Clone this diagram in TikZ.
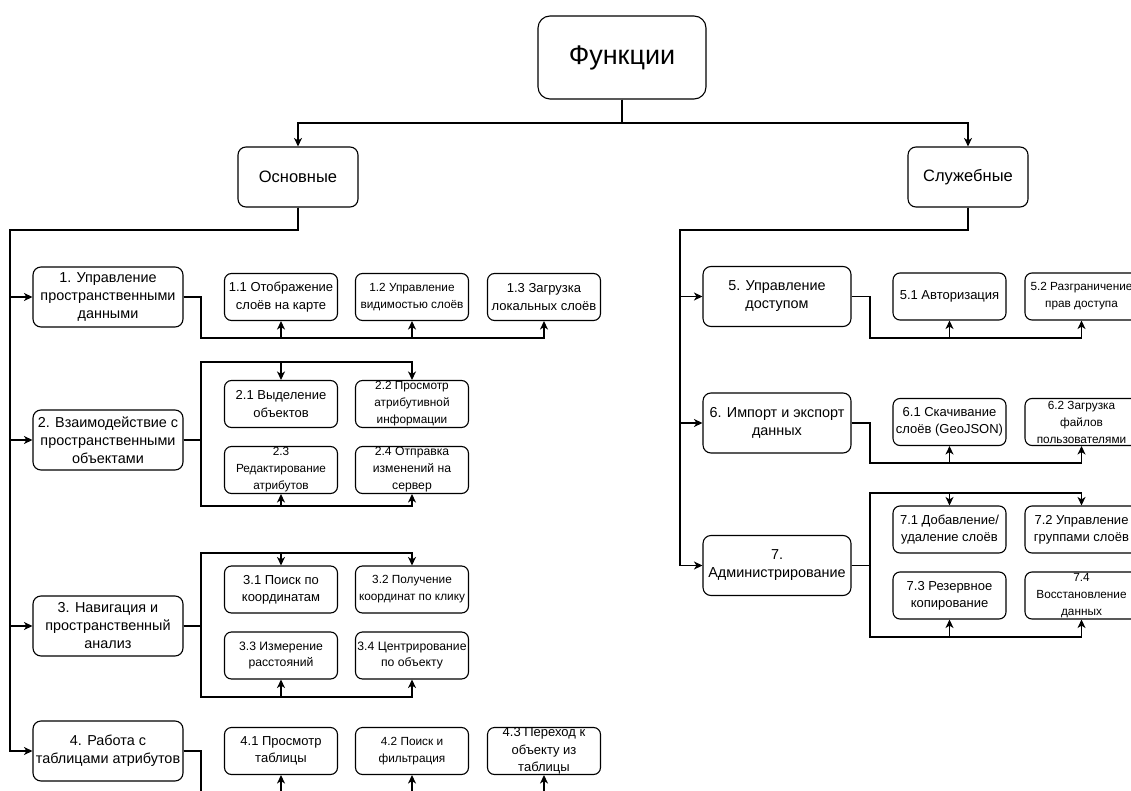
\documentclass[tikz,border=0pt]{standalone}
\usepackage{fontspec}
\setmainfont{Liberation Sans}
\usetikzlibrary{arrows.meta}
\begin{document}
\begin{tikzpicture}[x=1pt,y=-1pt,
  box/.style={draw=black, fill=white, rounded corners=8pt, align=center, inner sep=0pt, line width=1.1pt},
  mainbox/.style={box, minimum width=150pt, minimum height=60pt, font=\fontsize{14.4}{18}\selectfont},
  rmainbox/.style={mainbox, minimum width=148pt},
  subbox/.style={box, rounded corners=7pt, minimum width=113pt, minimum height=47pt, font=\fontsize{13}{17.3}\selectfont},
  subsm/.style={subbox, font=\fontsize{11.8}{17}\selectfont},
  submd/.style={subbox, font=\fontsize{12.2}{17}\selectfont},
  conn/.style={line width=1.1pt, draw=black},
  arr/.style={conn, -{Stealth[length=8.5pt,width=8pt,inset=2.5pt]}},
]
\fill[white, use as bounding box] (0,0) rectangle (1131,791);
\clip (0,0) rectangle (1131,791);

% top level
\node[box, rounded corners=12pt, minimum width=168pt, minimum height=83pt, font=\fontsize{27}{32}\selectfont] (func) at (622,57.5) {Функции};
\node[box, minimum width=120pt, minimum height=60pt, font=\fontsize{16.5}{20}\selectfont] (osn) at (298,177) {Основные};
\node[box, minimum width=120pt, minimum height=60pt, font=\fontsize{16.5}{20}\selectfont] (slu) at (968,177) {Служебные};

% left main boxes
\node[mainbox] (b1) at (108,297) {1. Управление\\пространственными\\данными};
\node[mainbox] (b2) at (108,440) {2. Взаимодействие с\\пространственными\\объектами};
\node[mainbox] (b3) at (108,626) {3. Навигация и\\пространственный\\анализ};
\node[mainbox] (b4) at (108,751) {4. Работа с\\таблицами атрибутов};

% right main boxes
\node[rmainbox] (b5) at (777,296.5) {5. Управление\\доступом};
\node[rmainbox] (b6) at (777,423) {6. Импорт и экспорт\\данных};
\node[rmainbox] (b7) at (777,565.5) {7.\\Администрирование};

% group 1
\node[subbox] (s11) at (281,297) {1.1 Отображение\\слоёв на карте};
\node[subsm]  (s12) at (412,297) {1.2 Управление\\видимостью слоёв};
\node[subbox] (s13) at (544,297) {1.3 Загрузка\\локальных слоёв};

% group 2
\node[subbox] (s21) at (281,404) {2.1 Выделение\\объектов};
\node[subsm]  (s22) at (412,404) {2.2 Просмотр\\атрибутивной\\информации};
\node[subsm]  (s23) at (281,470) {2.3\\Редактирование\\атрибутов};
\node[submd]  (s24) at (412,470) {2.4 Отправка\\изменений на\\сервер};

% group 3
\node[subbox] (s31) at (281,589.5) {3.1 Поиск по\\координатам};
\node[subsm]  (s32) at (412,589.5) {3.2 Получение\\координат по клику};
\node[submd]  (s33) at (281,655.5) {3.3 Измерение\\расстояний};
\node[submd]  (s34) at (412,655.5) {3.4 Центрирование\\по объекту};

% group 4
\node[subbox] (s41) at (281,751) {4.1 Просмотр\\таблицы};
\node[subsm]  (s42) at (412,751) {4.2 Поиск и\\фильтрация};
\node[subbox] (s43) at (544,751) {4.3 Переход к\\объекту из\\таблицы};

% group 5
\node[subbox] (s51) at (949.5,296.5) {5.1 Авторизация};
\node[subsm]  (s52) at (1081.5,296.5) {5.2 Разграничение\\прав доступа};

% group 6
\node[subbox] (s61) at (949.5,422) {6.1 Скачивание\\слоёв (GeoJSON)};
\node[subsm]  (s62) at (1081.5,422) {6.2 Загрузка\\файлов\\пользователями};

% group 7
\node[subbox] (s71) at (949.5,529.5) {7.1 Добавление/\\удаление слоёв};
\node[subbox] (s72) at (1081.5,529.5) {7.2 Управление\\группами слоёв};
\node[subbox] (s73) at (949.5,595.5) {7.3 Резервное\\копирование};
\node[subsm]  (s74) at (1081.5,595.5) {7.4\\Восстановление\\данных};

% junction coordinates
\coordinate (fj) at (623,123);
\coordinate (tl) at (10,230);
\coordinate (tr) at (680,230);
\coordinate (g1b) at (201,338);
\coordinate (g2t) at (201,362);
\coordinate (g2b) at (201,506);
\coordinate (g3t) at (201,553);
\coordinate (g3b) at (201,697);
\coordinate (g4b) at (201,793);
\coordinate (g5b) at (870,338);
\coordinate (g6b) at (870,463);
\coordinate (g7t) at (870,493);
\coordinate (g7b) at (870,637);

% connectors top
\draw[arr] (func.south) -- (func.south |- fj) -| (osn.north);
\draw[arr] (func.south) -- (func.south |- fj) -| (slu.north);

% trunks
\foreach \b in {b1,b2,b3,b4} \draw[arr] (osn.south) |- (tl) |- (\b.west);
\foreach \b in {b5,b6,b7} \draw[arr] (slu.south) |- (tr) |- (\b.west);

% brackets
\foreach \s in {s11,s12,s13} \draw[arr] (b1.east) -| (g1b) -| (\s.south);
\foreach \s in {s21,s22} \draw[arr] (b2.east) -| (g2t) -| (\s.north);
\foreach \s in {s23,s24} \draw[arr] (b2.east) -| (g2b) -| (\s.south);
\foreach \s in {s31,s32} \draw[arr] (b3.east) -| (g3t) -| (\s.north);
\foreach \s in {s33,s34} \draw[arr] (b3.east) -| (g3b) -| (\s.south);
\foreach \s in {s41,s42,s43} \draw[arr] (b4.east) -| (g4b) -| (\s.south);
\foreach \s in {s51,s52} \draw[arr] (b5.east) -| (g5b) -| (\s.south);
\foreach \s in {s61,s62} \draw[arr] (b6.east) -| (g6b) -| (\s.south);
\foreach \s in {s71,s72} \draw[arr] (b7.east) -| (g7t) -| (\s.north);
\foreach \s in {s73,s74} \draw[arr] (b7.east) -| (g7b) -| (\s.south);
\end{tikzpicture}
\end{document}
